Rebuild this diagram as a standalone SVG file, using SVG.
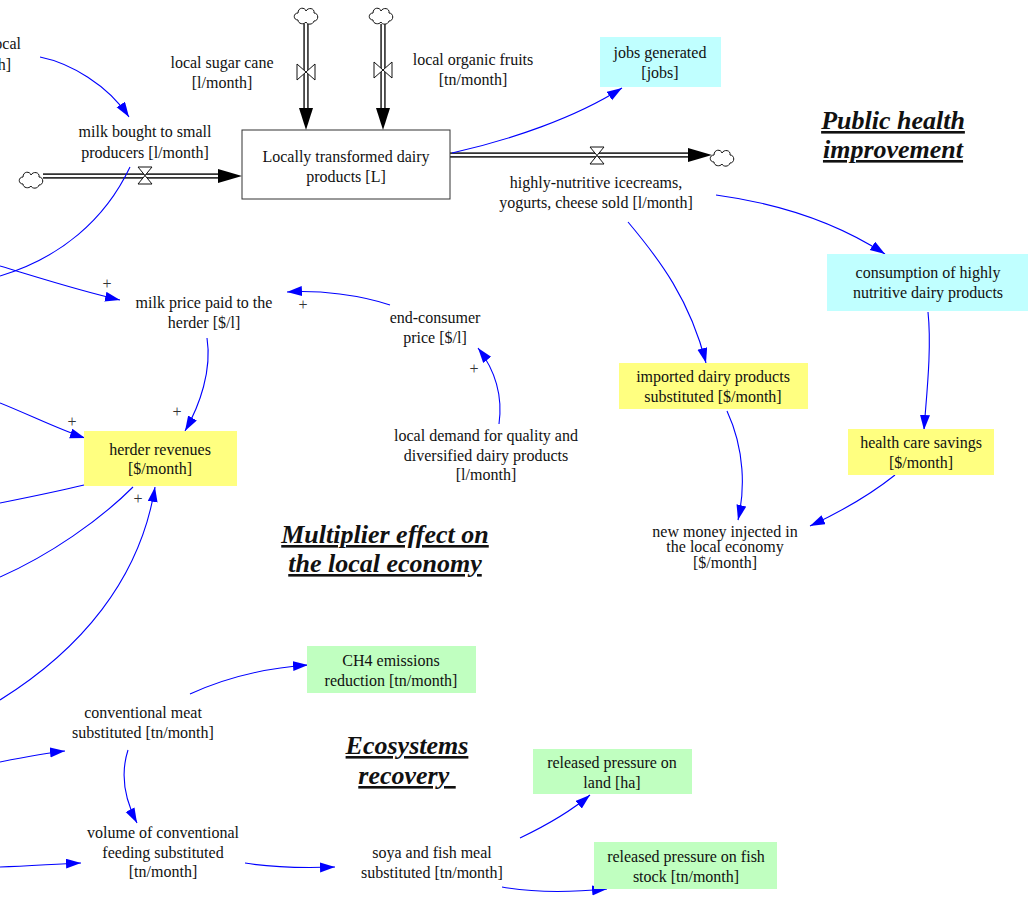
<svg xmlns="http://www.w3.org/2000/svg" width="1028" height="898" viewBox="0 0 1028 898">
  <style>
    text { font-family: "Liberation Serif", "Times New Roman", serif; font-size: 16px; fill: #111; text-anchor: middle; }
    .head { font-size: 26px; font-weight: bold; font-style: italic; text-decoration: underline; white-space: pre; }
    .plus { font-size: 16px; fill: #333; }
    .link { fill: none; stroke: #0000ff; stroke-width: 1.1; marker-end: url(#arr); }
    .link0 { fill: none; stroke: #0000ff; stroke-width: 1.1; }
    .pipe-o { stroke: #333; stroke-width: 5.5; fill: none; }
    .pipe-i { stroke: #fff; stroke-width: 2.2; fill: none; }
    .valve { fill: #fff; stroke: #111; stroke-width: 1; }
    .head-f { fill: #000; }
    .cloud { fill: #fff; stroke: #111; stroke-width: 1; }
    .cyan { fill: #c0ffff; }
    .yellow { fill: #ffff80; }
    .green { fill: #c0ffc0; }
  </style>
  <defs>
    <marker id="arr" markerUnits="userSpaceOnUse" markerWidth="16" markerHeight="12" refX="15" refY="5" orient="auto">
      <path d="M0,0 L15,5 L0,10 Z" fill="#0000ff"/>
    </marker>
    <path id="cloud" d="M-8,4 C-13,4 -13,-3 -8,-3 C-8,-9 -1,-9 0,-5 C2,-9 9,-8 8,-3 C13,-3 13,5 8,5 C7,9 1,9 0,6 C-2,9 -8,8 -8,4 Z"/>
  </defs>

  <!-- material flows (pipes, valves, sources and sinks) -->
  <g id="flows">
    <!-- inflow: milk bought to small producers -->
    <line class="pipe-o" x1="43" y1="176" x2="222" y2="176"/>
    <line class="pipe-i" x1="43" y1="176" x2="224" y2="176"/>
    <polygon class="head-f" points="218,169 242,176 218,183"/>
    <use href="#cloud" class="cloud" x="31" y="180"/>
    <path class="valve" d="M138,167 L152,167 L138,184 L152,184 Z"/>

    <!-- inflow: local sugar cane -->
    <line class="pipe-o" x1="306" y1="24" x2="306" y2="110"/>
    <line class="pipe-i" x1="306" y1="24" x2="306" y2="112"/>
    <polygon class="head-f" points="299,108 306,130 313,108"/>
    <use href="#cloud" class="cloud" x="306" y="16"/>
    <path class="valve" d="M297,64 L297,80 L315,64 L315,80 Z"/>

    <!-- inflow: local organic fruits -->
    <line class="pipe-o" x1="383" y1="24" x2="383" y2="110"/>
    <line class="pipe-i" x1="383" y1="24" x2="383" y2="112"/>
    <polygon class="head-f" points="376,108 383,130 390,108"/>
    <use href="#cloud" class="cloud" x="381" y="16"/>
    <path class="valve" d="M374,62 L374,78 L392,62 L392,78 Z"/>

    <!-- outflow: products sold -->
    <line class="pipe-o" x1="450" y1="155" x2="692" y2="155"/>
    <line class="pipe-i" x1="450" y1="155" x2="694" y2="155"/>
    <polygon class="head-f" points="688,148 712,155 688,162"/>
    <use href="#cloud" class="cloud" x="722" y="158"/>
    <path class="valve" d="M590,147 L604,147 L590,164 L604,164 Z"/>
  </g>

  <!-- causal links -->
  <g id="connectors">
    <path class="link" d="M40,57 C70,63 108,85 129,117"/>
    <path class="link0" d="M130,167 C105,220 60,258 0,276"/>
    <path class="link" d="M0,266 C40,278 80,291 120,300"/>
    <path class="link" d="M390,305 C360,295 320,290 287,292"/>
    <path class="link" d="M499,424 C503,395 495,370 478,348"/>
    <path class="link" d="M207,338 C212,370 200,405 185,431"/>
    <path class="link" d="M0,403 C30,415 60,430 85,438"/>
    <path class="link0" d="M84,485 C55,492 25,498 0,503"/>
    <path class="link0" d="M133,487 C100,520 50,555 0,577"/>
    <path class="link" d="M0,700 C80,650 140,580 155,487"/>
    <path class="link" d="M0,762 C20,758 45,753 65,751"/>
    <path class="link" d="M190,694 C225,678 265,668 308,665"/>
    <path class="link" d="M128,750 C120,775 125,800 137,823"/>
    <path class="link" d="M0,867 C30,866 55,864 81,863"/>
    <path class="link" d="M245,863 C275,868 305,868 335,867"/>
    <path class="link" d="M520,838 C545,826 570,812 590,795"/>
    <path class="link" d="M502,887 C535,893 575,892 607,889"/>
    <path class="link" d="M452,153 C510,140 575,118 622,88"/>
    <path class="link" d="M716,195 C790,205 845,228 885,254"/>
    <path class="link" d="M628,222 C660,260 690,300 706,363"/>
    <path class="link" d="M727,411 C745,450 745,490 738,520"/>
    <path class="link" d="M928,312 C932,350 926,400 924,430"/>
    <path class="link" d="M895,475 C870,495 840,512 810,526"/>
  </g>

  <!-- link polarities -->
  <g id="polarities">
    <text class="plus" x="107" y="289">+</text>
    <text class="plus" x="303" y="310">+</text>
    <text class="plus" x="177" y="417">+</text>
    <text class="plus" x="72" y="427">+</text>
    <text class="plus" x="138" y="504">+</text>
    <text class="plus" x="474" y="374">+</text>
  </g>

  <!-- variables -->
  <g id="local-milk-source">
    <text x="21" y="49" style="text-anchor:end">local</text>
    <text x="11" y="70" style="text-anchor:end">[l/month]</text>
  </g>
  <g id="milk-bought">
    <text x="145" y="137">milk bought to small</text>
    <text x="145" y="158">producers [l/month]</text>
  </g>
  <g id="sugar-cane">
    <text x="222" y="68">local sugar cane</text>
    <text x="222" y="88">[l/month]</text>
  </g>
  <g id="organic-fruits">
    <text x="473" y="65">local organic fruits</text>
    <text x="473" y="85">[tn/month]</text>
  </g>
  <g id="dairy-stock">
    <rect x="242" y="130" width="208" height="69" fill="#fff" stroke="#333" stroke-width="1"/>
    <text x="346" y="162">Locally transformed dairy</text>
    <text x="346" y="182">products [L]</text>
  </g>
  <g id="jobs">
    <rect class="cyan" x="600" y="37" width="121" height="50"/>
    <text x="660" y="58">jobs generated</text>
    <text x="660" y="78">[jobs]</text>
  </g>
  <g id="products-sold">
    <text x="596" y="188">highly-nutritive icecreams,</text>
    <text x="596" y="208">yogurts, cheese sold [l/month]</text>
  </g>
  <g id="milk-price">
    <text x="204" y="308">milk price paid to the</text>
    <text x="204" y="328">herder [$/l]</text>
  </g>
  <g id="end-price">
    <text x="435" y="323">end-consumer</text>
    <text x="435" y="343">price [$/l]</text>
  </g>
  <g id="local-demand">
    <text x="486" y="441">local demand for quality and</text>
    <text x="486" y="461">diversified dairy products</text>
    <text x="486" y="480">[l/month]</text>
  </g>
  <g id="herder-revenues">
    <rect class="yellow" x="84" y="431" width="153" height="55"/>
    <text x="160" y="455">herder revenues</text>
    <text x="160" y="474">[$/month]</text>
  </g>
  <g id="consumption">
    <rect class="cyan" x="827" y="254" width="201" height="57"/>
    <text x="928" y="278">consumption of highly</text>
    <text x="928" y="298">nutritive dairy products</text>
  </g>
  <g id="imported-substituted">
    <rect class="yellow" x="619" y="363" width="189" height="46"/>
    <text x="713" y="382">imported dairy products</text>
    <text x="713" y="402">substituted [$/month]</text>
  </g>
  <g id="health-savings">
    <rect class="yellow" x="848" y="429" width="146" height="46"/>
    <text x="921" y="448">health care savings</text>
    <text x="921" y="468">[$/month]</text>
  </g>
  <g id="new-money">
    <text x="725" y="537">new money injected in</text>
    <text x="725" y="552">the local economy</text>
    <text x="725" y="568">[$/month]</text>
  </g>
  <g id="ch4">
    <rect class="green" x="307" y="646" width="169" height="47"/>
    <text x="391" y="666">CH4 emissions</text>
    <text x="391" y="686">reduction [tn/month]</text>
  </g>
  <g id="meat-substituted">
    <text x="143" y="718">conventional meat</text>
    <text x="143" y="738">substituted [tn/month]</text>
  </g>
  <g id="feeding-substituted">
    <text x="163" y="838">volume of conventional</text>
    <text x="163" y="858">feeding substituted</text>
    <text x="163" y="877">[tn/month]</text>
  </g>
  <g id="soya-fish">
    <text x="432" y="858">soya and fish meal</text>
    <text x="432" y="878">substituted [tn/month]</text>
  </g>
  <g id="land-pressure">
    <rect class="green" x="533" y="749" width="159" height="45"/>
    <text x="612" y="768">released pressure on</text>
    <text x="612" y="788">land [ha]</text>
  </g>
  <g id="fish-pressure">
    <rect class="green" x="594" y="842" width="183" height="47"/>
    <text x="686" y="862">released pressure on fish</text>
    <text x="686" y="882">stock [tn/month]</text>
  </g>

  <!-- section headings -->
  <g id="headings">
    <text class="head" x="893" y="129">Public health</text>
    <text class="head" x="893" y="158">improvement</text>
    <text class="head" x="385" y="543">Multiplier effect on</text>
    <text class="head" x="385" y="572">the local economy</text>
    <text class="head" x="407" y="754">Ecosystems</text>
    <text class="head" x="407" y="784">recovery </text>
  </g>
</svg>
